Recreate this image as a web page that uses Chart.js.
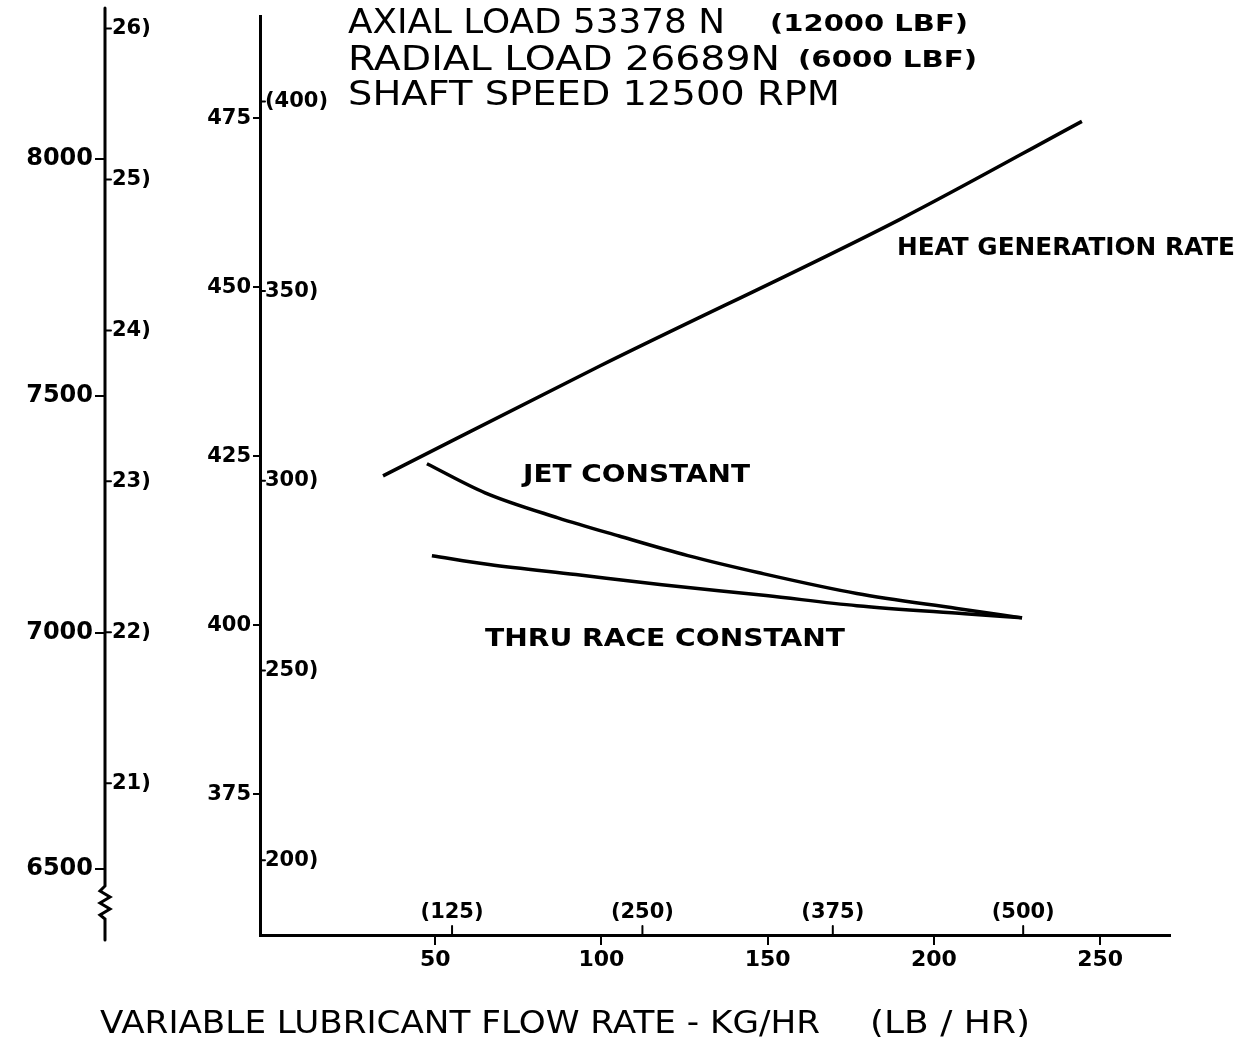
<!DOCTYPE html>
<html lang="en">
<head>
<meta charset="UTF-8">
<title>Lubricant flow rate vs heat generation</title>
<style>
  body { margin: 0; background: #fff; }
  .wrap { position: relative; width: 1242px; height: 1037px; }
</style>
</head>
<body>
<div class="wrap"><canvas id="chart"></canvas></div>

<script src="https://cdn.jsdelivr.net/npm/chart.js"></script>
<script>
  // flow rate in kg/hr, heat in W, temperatures in K
  const heatFlow = [34.3, 99.5, 189.8, 244.5];
  const heatWatts = [7331, 7563, 7873, 8080];

  const jetFlow = [47.5, 65.0, 86.9, 105.3, 126.0, 147.1, 176.8, 206.9, 226.5];
  const jetTemp = [423.9, 419.6, 415.9, 413.2, 410.3, 407.8, 404.7, 402.5, 401.1];

  const raceFlow = [49.0, 66.2, 92.3, 118.2, 149.5, 176.8, 209.3, 226.5];
  const raceTemp = [410.3, 409.0, 407.5, 406.0, 404.4, 402.9, 401.7, 401.1];

  // tick values and labels
  const kgTicks = [50, 100, 150, 200, 250];
  const lbTicks = [125, 250, 375, 500];
  const lbLabels = ['(125)', '(250)', '(375)', '(500)'];
  const kelvinTicks = [375, 400, 425, 450, 475];
  const fahrTicks = [200, 250, 300, 350, 400];
  const fahrLabels = ['200)', '250)', '300)', '350)', '(400)'];
  const wattTicks = [6500, 7000, 7500, 8000];
  const outerTicks = [21, 22, 23, 24, 25, 26];
  const outerLabels = ['21)', '22)', '23)', '24)', '25)', '26)'];

  const toPoints = (xs, ys) => xs.map((x, i) => ({ x: x, y: ys[i] }));
  const setTicks = list => scale => { scale.ticks = list.map(v => ({ value: v })); };
  const plain = v => String(v);

  const ink = '#000';
  const font = 'DejaVu Sans';

  // extra lettering, second-unit ticks and the broken outer axis
  const lettering = {
    id: 'lettering',
    afterDraw(chart) {
      const ctx = chart.ctx;
      const s = chart.scales;
      ctx.save();
      ctx.fillStyle = ink;
      ctx.strokeStyle = ink;
      ctx.lineCap = 'round';

      // outer axis line with zigzag break
      const ox = s.yW.right;
      ctx.lineWidth = 3;
      ctx.beginPath();
      ctx.moveTo(ox, 8);
      ctx.lineTo(ox, 886);
      [[-5, 891], [5, 897], [-5, 903], [5, 909], [-5, 915], [0, 919]].forEach(p => ctx.lineTo(ox + p[0], p[1]));
      ctx.lineTo(ox, 940);
      ctx.stroke();

      ctx.lineWidth = 2;
      ctx.textBaseline = 'middle';
      ctx.textAlign = 'left';

      // right-hand labels on the outer axis
      ctx.font = 'bold 21px ' + font;
      outerTicks.forEach((v, i) => {
        const y = s.yP.getPixelForValue(v);
        ctx.beginPath(); ctx.moveTo(ox, y); ctx.lineTo(ox + 6, y); ctx.stroke();
        ctx.fillText(outerLabels[i], ox + 7, y);
      });

      // right-hand labels on the inner axis
      const ix = s.yK.right;
      fahrTicks.forEach((v, i) => {
        const y = s.yF.getPixelForValue(v);
        ctx.beginPath(); ctx.moveTo(ix, y); ctx.lineTo(ix + 5, y); ctx.stroke();
        ctx.fillText(fahrLabels[i], ix + 5, y);
      });

      // lb/hr ticks above the x axis
      const by = s.x.top;
      ctx.textAlign = 'center';
      ctx.textBaseline = 'alphabetic';
      lbTicks.forEach((v, i) => {
        const x = s.xLb.getPixelForValue(v);
        ctx.beginPath(); ctx.moveTo(x, by); ctx.lineTo(x, by - 9); ctx.stroke();
        ctx.fillText(lbLabels[i], x, by - 17);
      });

      // lettering stretched to its span in the drawing
      ctx.textAlign = 'left';
      const put = (t, x, y, f, w) => {
        ctx.font = f;
        const k = w / ctx.measureText(t).width;
        ctx.save();
        ctx.translate(x, y);
        ctx.scale(k, 1);
        ctx.fillText(t, 0, 0);
        ctx.restore();
      };
      put('AXIAL LOAD 53378 N', 348, 33, '34px ' + font, 377);
      put('(12000 LBF)', 770, 31, 'bold 23px ' + font, 198);
      put('RADIAL LOAD 26689N', 348, 70, '34px ' + font, 432);
      put('(6000 LBF)', 798, 67, 'bold 23px ' + font, 179);
      put('SHAFT SPEED 12500 RPM', 348, 105, '34px ' + font, 492);

      put('HEAT GENERATION RATE', 897, 255, 'bold 24px ' + font, 338);
      put('JET CONSTANT', 523, 482, 'bold 24px ' + font, 227);
      put('THRU RACE CONSTANT', 485, 646, 'bold 24px ' + font, 360);

      put('VARIABLE LUBRICANT FLOW RATE - KG/HR', 100, 1033, '32px ' + font, 720);
      put('(LB / HR)', 870, 1033, '32px ' + font, 160);
      ctx.restore();
    }
  };

  const lineStyle = { borderColor: ink, borderWidth: 3.5, pointRadius: 0, fill: false, cubicInterpolationMode: 'monotone' };

  new Chart(document.getElementById('chart'), {
    type: 'line',
    data: {
      datasets: [
        Object.assign({ label: 'Heat generation rate', data: toPoints(heatFlow, heatWatts), yAxisID: 'yW' }, lineStyle),
        Object.assign({ label: 'Jet constant', data: toPoints(jetFlow, jetTemp), yAxisID: 'yK' }, lineStyle),
        Object.assign({ label: 'Thru race constant', data: toPoints(raceFlow, raceTemp), yAxisID: 'yK' }, lineStyle)
      ]
    },
    options: {
      responsive: true,
      maintainAspectRatio: false,
      animation: false,
      layout: { padding: { left: 0, top: 15, right: 72, bottom: 0 } },
      plugins: { legend: { display: false }, tooltip: { enabled: false } },
      scales: {
        x: {
          type: 'linear', position: 'bottom', min: -2.7, max: 271,
          border: { display: true, color: ink, width: 3 },
          grid: { drawOnChartArea: false, drawTicks: true, tickLength: 10, color: ink, lineWidth: 2 },
          ticks: { color: ink, padding: 2, callback: plain, font: { family: font, weight: 'bold', size: 22 } },
          afterBuildTicks: setTicks(kgTicks),
          afterFit: scale => { scale.height = 102; }
        },
        xLb: { type: 'linear', display: false, min: -1.1, max: 596.4 },
        yK: {
          type: 'linear', position: 'left', weight: 0, min: 354.2, max: 490.05,
          border: { display: true, color: ink, width: 3 },
          grid: { drawOnChartArea: false, drawTicks: true, tickLength: 7, color: ink, lineWidth: 2 },
          ticks: { color: ink, padding: 2, callback: plain, font: { family: font, weight: 'bold', size: 21 } },
          afterBuildTicks: setTicks(kelvinTicks),
          afterFit: scale => { scale.width = 155; }
        },
        yW: {
          type: 'linear', position: 'left', weight: 1, min: 6361, max: 8301.7,
          border: { display: false },
          grid: { drawOnChartArea: false, drawTicks: true, tickLength: 10, color: ink, lineWidth: 2 },
          ticks: { color: ink, padding: 2, callback: plain, font: { family: font, weight: 'bold', size: 24 } },
          afterBuildTicks: setTicks(wattTicks),
          afterFit: scale => { scale.width = 105; }
        },
        yF: { type: 'linear', display: false, min: 180.3, max: 422.4 },
        yP: { type: 'linear', display: false, min: 19.995, max: 26.08 }
      }
    },
    plugins: [lettering]
  });
</script>
</body>
</html>
